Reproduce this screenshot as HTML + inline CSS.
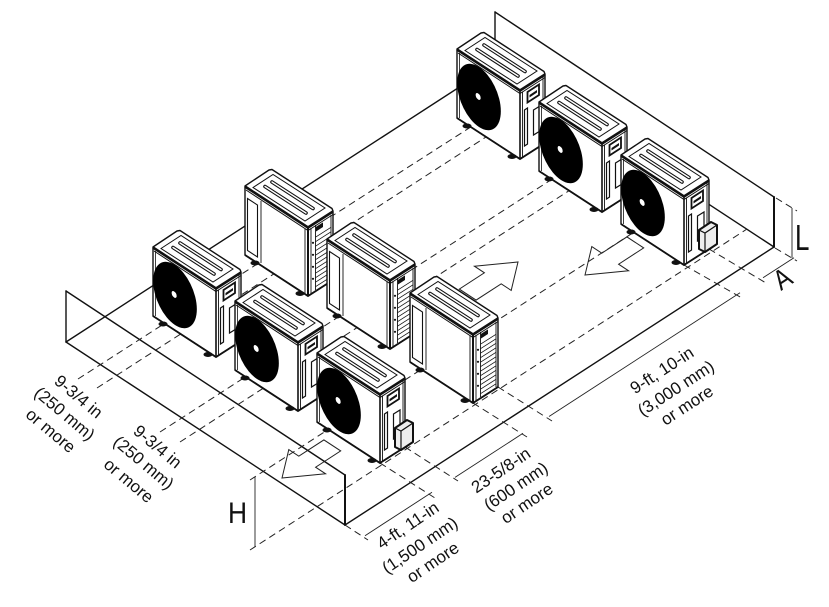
<!DOCTYPE html>
<html>
<head>
<meta charset="utf-8">
<style>
html,body{margin:0;padding:0;background:#fff;}
svg{display:block;}
</style>
</head>
<body>
<svg xmlns="http://www.w3.org/2000/svg" xmlns:xlink="http://www.w3.org/1999/xlink" width="829" height="607" viewBox="0 0 829 607">
<defs>
  <!-- Common top face details -->
  <g id="top">
    <path d="M8,2.5 L28,-10.5 L80,23 L60,36 Z" fill="none" stroke="#111" stroke-width="1"/>
    <path d="M20,1.5 L61,28 M27,-3 L68,23.5" stroke="#111" stroke-width="3.6" stroke-linecap="round" fill="none"/>
    <path d="M20,1.5 L61,28 M27,-3 L68,23.5" stroke="#fff" stroke-width="1.4" stroke-linecap="round" fill="none"/>
    <path d="M0,1.5 L63,42.5 L88,26.5" stroke="#111" stroke-width="2.6" fill="none" stroke-linejoin="round"/>
    <path d="M1,5 L63,45.5 L88,29.5" stroke="#111" stroke-width="1" fill="none"/>
  </g>

  <!-- Fan-facing unit -->
  <g id="fu">
    <path d="M0,1 L24,-15 L27,-15.5 L87,23.5 L88,26 L88,95 L63,111 L0,70 Z" fill="#fff" stroke="#111" stroke-width="1.4" stroke-linejoin="round"/>
    <use href="#top" xlink:href="#top"/>
    <path d="M63,43 L63,111" stroke="#111" stroke-width="1.6"/>
    <path d="M2.5,5 L2.5,70" stroke="#111" stroke-width="0.8"/>
    <path d="M65.5,44 L65.5,109.5 M86,29 L86,96" stroke="#111" stroke-width="0.9"/>
    <g transform="matrix(0.84,0.547,0,1,22,49)">
      <ellipse cx="0" cy="0" rx="26" ry="30" fill="#000"/>
      <circle cx="-1" cy="0" r="3" fill="#fff"/>
    </g>
    <path d="M70.5,44 L82,36.5 L82,47 L70.5,54.5 Z" fill="#fff" stroke="#111" stroke-width="1.8"/>
    <path d="M72.5,47 L80,42 L80,44.5 L72.5,49.5 Z" fill="#111"/>
    <path d="M67.5,62 L70.5,60 L70.5,96 L67.5,98 Z" fill="#fff" stroke="#111" stroke-width="1.2"/>
    <path d="M76.5,62 L83,58 L83,83 L76.5,87 Z" fill="none" stroke="#111" stroke-width="1.2"/>
    <path d="M0,70 L63,111 L88,95" stroke="#111" stroke-width="1.8" fill="none"/>
    <ellipse cx="10" cy="78" rx="4.5" ry="2.5" fill="#111"/>
    <ellipse cx="55" cy="108.5" rx="4.5" ry="2.5" fill="#111"/>
  </g>

  <!-- Valve cover -->
  <g id="vc">
    <path d="M78,76 L90,68 L96,71 L96,90 L84,98 L78,95 Z" fill="#eee" stroke="#111" stroke-width="2" stroke-linejoin="round"/>
    <path d="M78,76 L84,79 L96,71 M84,79 L84,98" stroke="#111" stroke-width="1.2" fill="none"/>
  </g>

  <!-- Back-facing unit -->
  <g id="bu">
    <path d="M0,1 L24,-15 L27,-15.5 L87,23.5 L88,26 L88,95 L63,111 L0,70 Z" fill="#fff" stroke="#111" stroke-width="1.4" stroke-linejoin="round"/>
    <use href="#top" xlink:href="#top"/>
    <path d="M2.5,13.5 L12.5,20 L12.5,72 L2.5,65.5 Z" fill="none" stroke="#111" stroke-width="1.1"/>
    <path d="M16,16 L16,78 M60,44 L60,109" stroke="#111" stroke-width="0.9"/>
    <path d="M63,43 L63,111" stroke="#111" stroke-width="2"/>
    <path d="M66,43 L66,109 M70.5,40 L70.5,105 M86,30 L86,95" stroke="#111" stroke-width="0.9"/>
    <path d="M70.5,52.2 L86,42.3 M70.5,56.7 L86,46.8 M70.5,61.2 L86,51.3 M70.5,65.7 L86,55.8 M70.5,70.2 L86,60.3 M70.5,74.7 L86,64.8 M70.5,79.2 L86,69.3 M70.5,83.7 L86,73.8 M70.5,88.2 L86,78.3 M70.5,92.7 L86,82.8 M70.5,97.2 L86,87.3 M70.5,101.7 L86,91.8" stroke="#111" stroke-width="0.8"/>
    <circle cx="68" cy="57.8" r="1.1" fill="#111"/>
    <circle cx="68" cy="69.8" r="1.1" fill="#111"/>
    <circle cx="68" cy="81.8" r="1.1" fill="#111"/>
    <circle cx="68" cy="93.8" r="1.1" fill="#111"/>
    <path d="M70.8,42 L78,37.4 L78,42 L70.8,46.6 Z" fill="#111"/>
    <path d="M0,70 L63,111 L88,95" stroke="#111" stroke-width="1.8" fill="none"/>
    <ellipse cx="10" cy="78" rx="4.5" ry="2.5" fill="#111"/>
    <ellipse cx="55" cy="108.5" rx="4.5" ry="2.5" fill="#111"/>
  </g>
</defs>

<rect x="0" y="0" width="829" height="607" fill="#fff"/>

<!-- Solid structure lines -->
<g stroke="#111" stroke-width="1.4" fill="none" stroke-linecap="round">
  <line x1="495" y1="12" x2="774" y2="197"/>
  <line x1="495" y1="12" x2="495" y2="64"/>
  <line x1="774" y1="197" x2="774" y2="247" stroke-width="2"/>
  <line x1="495" y1="64" x2="774" y2="247"/>
  <line x1="66" y1="342" x2="495" y2="64"/>
  <line x1="345" y1="525" x2="774" y2="247"/>
  <line x1="66" y1="291" x2="345" y2="475"/>
  <line x1="66" y1="342" x2="345" y2="525"/>
  <line x1="66" y1="291" x2="66" y2="342"/>
  <line x1="345" y1="475" x2="345" y2="525" stroke-width="2"/>
</g>

<!-- Dashed lines -->
<g stroke="#222" stroke-width="1" stroke-dasharray="7 4.5" fill="none">
  <line x1="78" y1="379" x2="530" y2="89"/>
  <line x1="97" y1="388" x2="548" y2="97"/>
  <line x1="160" y1="432" x2="605" y2="145"/>
  <line x1="180" y1="442" x2="615" y2="161"/>
  <line x1="250" y1="480" x2="690" y2="196"/>
  <line x1="250" y1="550" x2="747" y2="229"/>
  <line x1="345" y1="525" x2="368" y2="540"/>
  <line x1="380" y1="463" x2="435" y2="498"/>
  <line x1="405" y1="447" x2="458" y2="481"/>
  <line x1="473" y1="403" x2="527" y2="437"/>
  <line x1="498" y1="387" x2="552" y2="421"/>
  <line x1="684" y1="265" x2="742" y2="298"/>
  <line x1="709" y1="249" x2="766" y2="283"/>
  <line x1="776" y1="198" x2="797" y2="211"/>
  <line x1="775" y1="248" x2="797" y2="261"/>
</g>

<!-- Dimension lines -->
<g stroke="#222" stroke-width="0.9" fill="none">
  <line x1="365" y1="535.7" x2="432" y2="492.3"/>
  <line x1="455" y1="477.4" x2="523" y2="433.3"/>
  <line x1="549" y1="416.5" x2="740" y2="292.7"/>
  <line x1="763" y1="277.8" x2="794" y2="257.7"/>
  <line x1="792" y1="208" x2="792" y2="258"/>
  <line x1="255" y1="477" x2="255" y2="547"/>
</g>

<!-- Arrows -->
<g stroke="#222" stroke-width="1" fill="none" stroke-linejoin="miter">
  <polygon points="518,262 511.2,290.4 501.2,283.8 476.1,300.1 459.3,289.1 484.4,272.8 474.4,266.2"/>
  <polygon points="585,275 628.6,270.8 618.6,264.2 643.7,247.9 626.9,236.9 601.8,253.2 591.8,246.6"/>
  <polygon points="282,478 325.6,473.8 315.6,467.2 340.7,450.9 323.9,439.9 298.8,456.2 288.8,449.6"/>
</g>

<!-- Back row units (fan facing) -->
<use href="#fu" xlink:href="#fu" transform="translate(457,48)"/>
<use href="#fu" xlink:href="#fu" transform="translate(539,101)"/>
<use href="#fu" xlink:href="#fu" transform="translate(621,154)"/>
<use href="#vc" xlink:href="#vc" transform="translate(621,154)"/>

<!-- Middle row units (back facing) -->
<use href="#bu" xlink:href="#bu" transform="translate(245,185)"/>
<use href="#bu" xlink:href="#bu" transform="translate(327,238)"/>
<use href="#bu" xlink:href="#bu" transform="translate(410,292)"/>

<!-- Front row units (fan facing) -->
<use href="#fu" xlink:href="#fu" transform="translate(153,246)"/>
<use href="#fu" xlink:href="#fu" transform="translate(235,300)"/>
<use href="#fu" xlink:href="#fu" transform="translate(317,352)"/>
<use href="#vc" xlink:href="#vc" transform="translate(317,352)"/>

<!-- Labels -->
<g font-family="'Liberation Sans', Arial, sans-serif" font-size="17" fill="#111" text-anchor="middle">
  <text transform="translate(75,401) rotate(40)">9-3/4 in</text>
  <text transform="translate(61,418) rotate(40)">(250 mm)</text>
  <text transform="translate(47,435) rotate(40)">or more</text>

  <text transform="translate(154,451) rotate(40)">9-3/4 in</text>
  <text transform="translate(140,467) rotate(40)">(250 mm)</text>
  <text transform="translate(125,485) rotate(40)">or more</text>

  <text transform="translate(665,375) rotate(-33)">9-ft, 10-in</text>
  <text transform="translate(679,393) rotate(-33)">(3,000 mm)</text>
  <text transform="translate(690,410) rotate(-33)">or more</text>

  <text transform="translate(504,475) rotate(-34)">23-5/8-in</text>
  <text transform="translate(519,491) rotate(-34)">(600 mm)</text>
  <text transform="translate(530,508) rotate(-34)">or more</text>

  <text transform="translate(411,530) rotate(-34)">4-ft, 11-in</text>
  <text transform="translate(423,550) rotate(-34)">(1,500 mm)</text>
  <text transform="translate(436,567) rotate(-34)">or more</text>
</g>

<g font-family="'Liberation Sans', Arial, sans-serif" fill="#111">
  <text transform="translate(228,523) scale(0.88,1)" font-size="30">H</text>
  <text transform="translate(795,250) scale(0.72,1)" font-size="36">L</text>
  <text transform="translate(781,291) rotate(-33) scale(0.85,1)" font-size="28">A</text>
</g>
</svg>
</body>
</html>
